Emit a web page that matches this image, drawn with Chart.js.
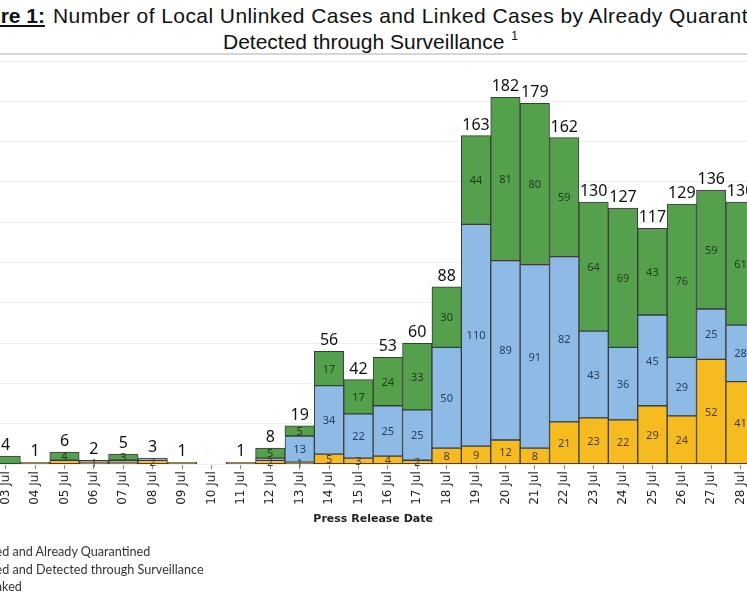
<!DOCTYPE html>
<html>
<head>
<meta charset="utf-8">
<script src="https://cdn.jsdelivr.net/npm/chart.js@4.4.1/dist/chart.umd.min.js"></script>
<style>
  html, body { margin: 0; padding: 0; background: #fff; }
  body { width: 747px; height: 598px; position: relative; overflow: hidden; font-family: "Liberation Sans", Arial, sans-serif; }
  .t { position: absolute; font-family: "Liberation Sans", Arial, sans-serif; font-size: 21px; color: #111; white-space: nowrap; line-height: 1; }
  #fig { right: 702px; top: 5px; font-weight: bold; text-decoration: underline; }
  #t1 { left: 53px; top: 5px; letter-spacing: 0.43px; }
  #t2 { left: 223px; top: 30px; }
  #t2 sup { font-size: 12px; vertical-align: 9px; margin-left: 7px; }
  #sep { position: absolute; left: 0; top: 53px; width: 747px; height: 2px; background: #d6d6d6; }
  #wrap { position: absolute; left: -9.5px; top: 0; width: 766px; height: 598px; }
  #legend { position: absolute; left: -27px; top: 543px; font-family: Lato, sans-serif; font-size: 12.6px; color: #333; line-height: 17.5px; }
</style>
</head>
<body>
<div class="t" id="fig">Figure 1:</div>
<div class="t" id="t1">Number of Local Unlinked Cases and Linked Cases by Already Quarantined and</div>
<div class="t" id="t2">Detected through Surveillance<sup>1</sup></div>
<div id="sep"></div>
<div id="wrap"><canvas id="chart"></canvas></div>
<div id="legend">
  <div>Linked and Already Quarantined</div>
  <div>Linked and Detected through Surveillance</div>
  <div>Unlinked</div>
</div>
<script>
const dates = ["03 Jul", "04 Jul", "05 Jul", "06 Jul", "07 Jul", "08 Jul", "09 Jul", "10 Jul", "11 Jul",
  "12 Jul", "13 Jul", "14 Jul", "15 Jul", "16 Jul", "17 Jul", "18 Jul", "19 Jul", "20 Jul", "21 Jul",
  "22 Jul", "23 Jul", "24 Jul", "25 Jul", "26 Jul", "27 Jul", "28 Jul"];
const quarantined = [0, 1, 2, 1, 1, 2, 1, 0, 1, 2, 1, 5, 3, 4, 2, 8, 9, 12, 8, 21, 23, 22, 29, 24, 52, 41];
const surveillance = [0, 0, 0, 1, 1, 1, 0, 0, 0, 1, 13, 34, 22, 25, 25, 50, 110, 89, 91, 82, 43, 36, 45, 29, 25, 28];
const unlinked = [4, 0, 4, 0, 3, 0, 0, 0, 0, 5, 5, 17, 17, 24, 33, 30, 44, 81, 80, 59, 64, 69, 43, 76, 59, 61];
const seriesNames = ["Linked and Already Quarantined", "Linked and Detected through Surveillance", "Unlinked"];

const fills = ["#F6BB1F", "#8EBBE5", "#55A04D"];
const inkColors = ["#4a3b14", "#26405e", "#1f3a1d"];

// totals on top; segment values inside only when a bar has several parts
// (bigger first, skipping ones that would overlap)
const labelPlugin = {
  id: "barLabels",
  afterDatasetsDraw(chart) {
    const ctx = chart.ctx;
    const x = chart.scales.x;
    const y = chart.scales.y;
    ctx.save();
    ctx.textAlign = "center";
    dates.forEach((d, i) => {
      let total = 0;
      const segs = [];
      chart.data.datasets.forEach((ds, k) => {
        const v = ds.data[i];
        if (v) {
          segs.push({ k, v, mid: y.getPixelForValue(total + v / 2) });
          total += v;
        }
      });
      if (!total) return;
      const px = x.getPixelForValue(i);
      ctx.font = '16px "Noto Sans"';
      ctx.fillStyle = "#111";
      ctx.textBaseline = "alphabetic";
      ctx.fillText(total, px, y.getPixelForValue(total) - 6);

      if (segs.length < 2) return;
      ctx.font = '11px "Noto Sans"';
      ctx.textBaseline = "middle";
      const placed = [];
      segs.sort((a, b) => b.v - a.v).forEach(s => {
        if (placed.some(p => Math.abs(p - s.mid) < 8)) return;
        placed.push(s.mid);
        ctx.fillStyle = inkColors[s.k];
        ctx.fillText(s.v, px, s.mid + 1);
      });
    });
    ctx.restore();
  }
};

new Chart(document.getElementById("chart"), {
  type: "bar",
  data: {
    labels: dates,
    datasets: [quarantined, surveillance, unlinked].map((vals, k) => ({
      label: seriesNames[k],
      data: vals.map(v => v || null),
      backgroundColor: fills[k],
      borderColor: "#3b3b3b",
      borderWidth: 1,
      borderSkipped: false,
      barPercentage: 1,
      categoryPercentage: 1
    }))
  },
  options: {
    responsive: true,
    maintainAspectRatio: false,
    animation: false,
    layout: { padding: { top: 61, bottom: 72, left: 0, right: 0 } },
    plugins: { legend: { display: false }, tooltip: { enabled: false } },
    scales: {
      x: {
        stacked: true,
        border: { display: false },
        grid: { drawOnChartArea: false, offset: false, tickLength: 5, color: "#888" },
        ticks: { maxRotation: 90, minRotation: 90, color: "#222", padding: 2, font: { family: "DejaVu Sans", size: 12 } },
        title: { display: true, text: "Press Release Date", color: "#222", font: { family: "DejaVu Sans", size: 11, weight: "bold" }, padding: { top: 6, bottom: 0 } }
      },
      y: {
        stacked: true,
        min: 0,
        max: 200,
        ticks: { display: false, stepSize: 20 },
        border: { display: false },
        grid: { color: "#eeeeee", drawTicks: false }
      }
    }
  },
  plugins: [labelPlugin]
});
</script>
</body>
</html>
